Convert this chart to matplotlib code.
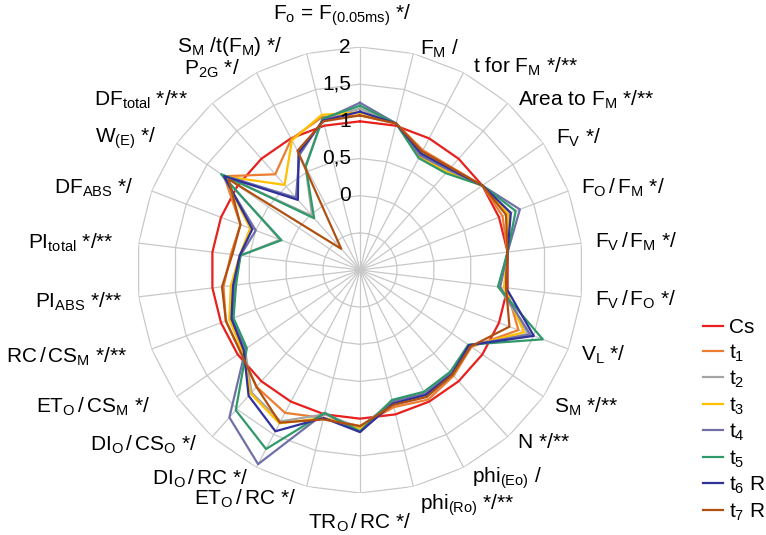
import numpy as np
import matplotlib.pyplot as plt

plt.rcParams['font.family'] = 'Liberation Sans'
plt.rcParams['mathtext.fontset'] = 'custom'
plt.rcParams['mathtext.rm'] = 'Liberation Sans'
plt.rcParams['mathtext.it'] = 'Liberation Sans:italic'
plt.rcParams['mathtext.default'] = 'rm'

# axis labels, clockwise from the top
labels = [
    r"F$_\mathrm{o}$ = F$_\mathrm{(0.05ms)}$ */",
    r"F$_\mathrm{M}$ /",
    r"t for F$_\mathrm{M}$ */**",
    r"Area to F$_\mathrm{M}$ */**",
    r"F$_\mathrm{V}$ */",
    r"F$_\mathrm{O}\,$/$\,$F$_\mathrm{M}$ */",
    r"F$_\mathrm{V}\,$/$\,$F$_\mathrm{M}$ */",
    r"F$_\mathrm{V}\,$/$\,$F$_\mathrm{O}$ */",
    r"V$_\mathrm{L}$ */",
    r"S$_\mathrm{M}$ */**",
    r"N */**",
    r"phi$_\mathrm{(Eo)}$ /",
    r"phi$_\mathrm{(Ro)}$ */**",
    r"TR$_\mathrm{O}\,$/$\,$RC */",
    r"ET$_\mathrm{O}\,$/$\,$RC */",
    r"DI$_\mathrm{O}\,$/$\,$RC */",
    r"DI$_\mathrm{O}\,$/$\,$CS$_\mathrm{O}$ */",
    r"ET$_\mathrm{O}\,$/$\,$CS$_\mathrm{M}$ */",
    r"RC$\,$/$\,$CS$_\mathrm{M}$ */**",
    r"PI$_\mathrm{ABS}$ */**",
    r"PI$_\mathrm{total}$ */**",
    r"DF$_\mathrm{ABS}$ */",
    r"W$_\mathrm{(E)}$ */",
    r"DF$_\mathrm{total}$ */**",
    r"P$_\mathrm{2G}$ */",
    r"S$_\mathrm{M}$ /t(F$_\mathrm{M}$) */",
]

cs = [1.0] * 26
t1 = [1.08, 1.03, 0.82, 0.85, 1.0, 1.05, 1.0, 0.98, 1.28, 0.82, 0.90, 0.97, 0.90,
      1.10, 1.05, 1.17, 1.10, 0.95, 0.93, 0.85, 0.75, 0.72, 1.22, 0.72, 0.99, 1.12]
t2 = [1.17, 1.03, 0.76, 0.78, 1.0, 1.15, 1.0, 0.88, 1.42, 0.79, 0.86, 0.88, 0.82,
      1.12, 1.00, 1.30, 1.20, 0.88, 0.85, 0.72, 0.62, 0.15, 1.25, -0.03, 0.58, 1.10]
t3 = [1.12, 1.03, 0.72, 0.76, 1.0, 1.13, 1.0, 0.95, 1.36, 0.80, 0.88, 0.90, 0.85,
      1.14, 1.05, 1.33, 1.22, 0.92, 0.88, 0.75, 0.63, 0.58, 1.22, 0.53, 0.97, 1.15]
t4 = [1.25, 1.03, 0.74, 0.80, 1.0, 1.30, 1.0, 0.90, 1.45, 0.78, 0.85, 0.88, 0.82,
      1.18, 0.98, 1.95, 1.65, 0.87, 0.83, 0.70, 0.62, 0.50, 1.25, 0.30, 0.75, 1.08]
t5 = [1.21, 1.03, 0.70, 0.74, 1.0, 1.24, 1.0, 0.87, 1.63, 0.77, 0.83, 0.85, 0.80,
      1.17, 0.98, 1.72, 1.52, 0.85, 0.82, 0.68, 0.62, 0.13, 1.27, -0.07, 0.57, 1.10]
t6 = [1.13, 1.03, 0.77, 0.82, 1.0, 1.17, 1.0, 0.98, 1.50, 0.78, 0.87, 0.90, 0.85,
      1.18, 1.05, 1.45, 1.26, 0.90, 0.85, 0.72, 0.63, 0.55, 1.22, 0.26, 0.78, 1.07]
t7 = [1.08, 1.03, 0.80, 0.84, 1.0, 1.10, 1.0, 0.98, 1.15, 0.81, 0.88, 0.93, 0.87,
      1.10, 1.07, 1.32, 1.10, 0.95, 0.93, 0.87, 0.73, 0.72, 1.15, -0.62, 0.81, 1.06]

series = [cs, t1, t2, t3, t4, t5, t6, t7]
names = ["Cs", "t$_1$", "t$_2$", "t$_3$", "t$_4$", "t$_5$", "t$_6$ R", "t$_7$ R"]
colors = ['#E8201E', '#ED7D31', '#A5A5A5', '#FFC000', '#7070A8', '#30996A', '#31319C', '#B05010']

ring_values = [0, 0.5, 1, 1.5, 2]

# label offsets in pixels from the outer vertex (dx, dy up)
label_off = [(-18, 32), (7, 5), (9, 6), (10, 3), (12, 5), (12, 3), (14, 1), (14, -3),
             (12, -6), (10, -10), (10, -6), (8, -11), (7, -19), (0, -30), (-10, -12),
             (-8, -11), (-15, -8), (-26, -10), (-24, -8), (-16, -5), (-25, 0), (-18, 3),
             (-20, 5), (-24, 3), (-16, 4), (-24, 7)]

n = len(labels)
theta = np.arange(n) * 2 * np.pi / n
theta_c = np.append(theta, theta[0])

fig = plt.figure(figsize=(7.66, 5.35), dpi=100)
ax = fig.add_axes([137 / 766, 42 / 535, 446 / 766, 446 / 535], projection='polar')
ax.set_theta_zero_location('N')
ax.set_theta_direction(-1)
ax.grid(False)
ax.spines['polar'].set_visible(False)
ax.set_xticks([])
ax.set_yticks([])

# polygon grid
for v in [-0.5, 0, 0.5, 1, 1.5, 2]:
    ax.plot(theta_c, [v] * (n + 1), color='#C8C8C8', lw=0.9, zorder=1)
for th in theta:
    ax.plot([th, th], [-1, 2], color='#C8C8C8', lw=0.9, zorder=1)

handles = []
for vals, name, col in zip(series, names, colors):
    h, = ax.plot(theta_c, vals + vals[:1], color=col, lw=1.6, zorder=3, label=name)
    handles.append(h)

ax.set_ylim(-1, 2)

for v in ring_values:
    ax.annotate(f"{v:g}".replace('.', ','), xy=(0, v), xytext=(-9, 0),
                textcoords='offset pixels', ha='right', va='center', fontsize=15,
                annotation_clip=False, zorder=4)

for th, lab, (dx, dy) in zip(theta, labels, label_off):
    s = np.sin(th)
    ha = 'center' if abs(s) < 0.1 else ('left' if s > 0 else 'right')
    ax.annotate(lab, xy=(th, 2), xytext=(dx, dy), textcoords='offset pixels',
                ha=ha, va='center', fontsize=15, annotation_clip=False)

fig.legend(handles=handles, labels=names, loc='upper left',
           bbox_to_anchor=(703 / 766, 1 - 318 / 535), frameon=False, fontsize=15,
           handlelength=0.95, handletextpad=0.3, labelspacing=0.25,
           borderpad=0, borderaxespad=0)

fig.savefig('out.png', dpi=100)
